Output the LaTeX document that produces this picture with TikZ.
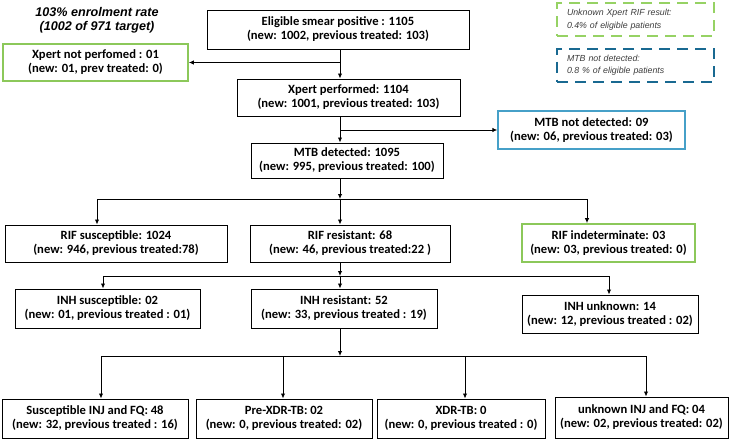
\documentclass[tikz,border=0pt]{standalone}
\usepackage{fontspec}
\setmainfont{Carlito}
\newfontfamily\arialfont{Liberation Sans}
\usetikzlibrary{arrows.meta}
\definecolor{lgreen}{RGB}{140,200,90}
\definecolor{lblue}{RGB}{70,160,200}
\definecolor{dblue}{RGB}{25,105,145}
\definecolor{dgreen}{RGB}{150,210,100}
\definecolor{legtext}{RGB}{60,60,60}

\begin{document}
\begin{tikzpicture}[x=1pt,y=1pt,
	box/.style={draw, line width=1pt, align=center, inner sep=0pt,
		font=\bfseries\fontsize{12.6}{14}\selectfont},
	gbox/.style={box, draw=lgreen, line width=1.8pt},
	bbox/.style={box, draw=lblue, line width=1.4pt},
	legend/.style={line width=2pt, dash pattern=on 11pt off 7pt, align=left,
		inner xsep=10pt, text width=137pt, minimum height=33pt, text=legtext,
		font=\arialfont\itshape\fontsize{8.8}{12.5}\selectfont},
	arr/.style={line width=0.9pt, -{Latex[length=5pt,width=4.5pt]}},
	lin/.style={line width=0.9pt}]
	\useasboundingbox (0,0) rectangle (732,-439);

	% note and legend
	\node[font=\arialfont\bfseries\itshape\fontsize{12.6}{14}\selectfont, align=center] (rate) at (97,-20) {103\% enrolment rate\\(1002 of 971 target)};
	\node[legend, draw=dgreen] (unkleg) at (635.5,-19.5) {Unknown Xpert RIF result:\\0.4\% of eligible patients};
	\node[legend, draw=dblue] (mtbleg) at (635.5,-65) {MTB not detected:\\0.8 \% of eligible patients};

	% boxes
	\node[box, minimum width=262pt, minimum height=39pt] (elig) at (338,-29.5) {Eligible smear positive : 1105\\(new: 1002, previous treated: 103)};
	\node[gbox, minimum width=185pt, minimum height=37pt] (notperf) at (95.5,-62.5) {Xpert not perfomed : 01\\(new: 01, prev treated: 0)};
	\node[box, minimum width=223pt, minimum height=37pt] (perf) at (348.5,-97.5) {Xpert performed: 1104\\(new: 1001, previous treated: 103)};
	\node[box, minimum width=192pt, minimum height=35pt] (mtb) at (347,-160.5) {MTB detected: 1095\\(new: 995, previous treated: 100)};
	\node[bbox, minimum width=187pt, minimum height=38pt] (mtbnot) at (591.5,-130) {MTB not detected: 09\\(new: 06, previous treated: 03)};

	\node[box, minimum width=222pt, minimum height=37pt] (rifsus) at (116,-243.5) {RIF susceptible: 1024\\(new: 946, previous treated:78)};
	\node[box, minimum width=200pt, minimum height=37pt] (rifres) at (350,-243.5) {RIF resistant: 68\\(new: 46, previous treated:22 )};
	\node[gbox, minimum width=173pt, minimum height=38pt] (rifind) at (608.5,-243) {RIF indeterminate: 03\\(new: 03, previous treated: 0)};

	\node[box, minimum width=185pt, minimum height=39pt] (inhsus) at (107.5,-308.5) {INH susceptible: 02\\(new: 01, previous treated : 01)};
	\node[box, minimum width=186pt, minimum height=39pt] (inhres) at (344,-308.5) {INH resistant: 52\\(new: 33, previous treated : 19)};
	\node[box, minimum width=176pt, minimum height=38pt] (inhunk) at (610,-314) {INH unknown: 14\\(new: 12, previous treated : 02)};

	\node[box, minimum width=186pt, minimum height=39pt] (susinj) at (95,-418.5) {Susceptible INJ and FQ: 48\\(new: 32, previous treated : 16)};
	\node[box, minimum width=176pt, minimum height=39pt] (prexdr) at (284,-418.5) {Pre-XDR-TB: 02\\(new: 0, previous treated: 02)};
	\node[box, minimum width=168pt, minimum height=39pt] (xdr) at (461,-418.5) {XDR-TB: 0\\(new: 0, previous treated : 0)};
	\node[box, minimum width=173pt, minimum height=41pt] (unkinj) at (641.5,-417.5) {unknown INJ and FQ: 04\\(new: 02, previous treated: 02)};

	% connectors
	\coordinate (t) at (340,0);
	\draw[arr] (elig.south -| t) -- (perf.north -| t);
	\draw[arr] (elig.south -| t) |- (notperf.east);
	\draw[arr] (perf.south -| t) -- (mtb.north -| t);
	\draw[arr] (perf.south -| t) |- (mtbnot.west);

	\coordinate (r1) at (97,-199);
	\coordinate (r2) at (340,-199);
	\coordinate (r3) at (587,-199);
	\draw[arr] (mtb.south -| t) -- (r2);
	\draw[lin] (r1) -- (r3);
	\draw[arr] (r1) -- (r1 |- rifsus.north);
	\draw[arr] (r2) -- (r2 |- rifres.north);
	\draw[arr] (r3) -- (r3 |- rifind.north);

	\coordinate (i1) at (103,-276);
	\coordinate (i2) at (340,-276);
	\coordinate (i3) at (609,-276);
	\draw[arr] (rifres.south -| t) -- (i2);
	\draw[lin] (i1) -- (i3);
	\draw[arr] (i1) -- (i1 |- inhsus.north);
	\draw[arr] (i2) -- (i2 |- inhres.north);
	\draw[arr] (i3) -- (i3 |- inhunk.north);

	\coordinate (d1) at (101,-356);
	\coordinate (d2) at (283,-356);
	\coordinate (d3) at (465,-356);
	\coordinate (d4) at (646,-356);
	\draw[arr] (inhres.south -| t) -- (t |- d1);
	\draw[lin] (d1) -- (d4);
	\draw[arr] (d1) -- (d1 |- susinj.north);
	\draw[arr] (d2) -- (d2 |- prexdr.north);
	\draw[arr] (d3) -- (d3 |- xdr.north);
	\draw[arr] (d4) -- (d4 |- unkinj.north);
\end{tikzpicture}
\end{document}
